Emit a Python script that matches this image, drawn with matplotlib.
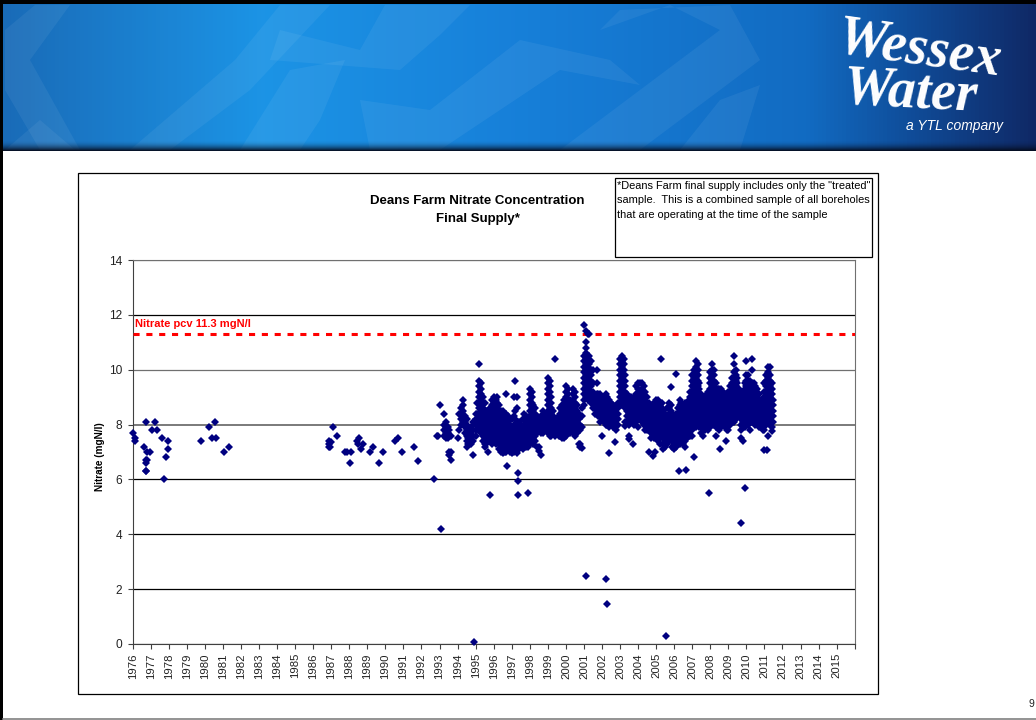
#!/usr/bin/env python3

import numpy as np
import matplotlib
matplotlib.use("Agg")
import matplotlib.pyplot as plt
from matplotlib.patches import Rectangle, Polygon

plt.rcParams['font.family'] = ['Liberation Sans', 'DejaVu Sans']

NAVY = "#000080"

# isolated samples
early_years = [1976.0, 1976.1, 1976.15, 1976.65, 1976.72, 1976.72, 1976.76, 1976.74, 1976.8, 1976.78, 1976.94,
               1976.74, 1977.06, 1977.24, 1977.37, 1977.65, 1977.76, 1977.83, 1977.93, 1977.98,
               1979.78, 1980.2, 1980.41, 1980.56, 1980.63, 1981.06, 1981.33]
early_values = [7.7, 7.5, 7.4, 7.2, 6.6, 6.3, 6.3, 6.7, 6.7, 7.0, 7.0,
                8.1, 7.8, 8.1, 7.8, 7.5, 6.0, 6.8, 7.1, 7.4,
                7.4, 7.9, 7.5, 8.1, 7.5, 7.0, 7.2]

mid_years = [1986.85, 1986.87, 1986.9, 1986.95, 1986.98, 1987.11, 1987.33, 1987.74, 1987.89, 1988.02, 1988.09,
             1988.43, 1988.54, 1988.48, 1988.63, 1988.78, 1989.13, 1989.33, 1989.67, 1989.85, 1990.54, 1990.7,
             1990.94, 1991.56, 1991.81, 1992.67, 1992.85, 1992.9]
mid_values = [7.2, 7.4, 7.3, 7.2, 7.35, 7.9, 7.6, 7.0, 7.0, 6.6, 7.0,
              7.4, 7.5, 7.3, 7.1, 7.3, 7.0, 7.2, 6.6, 7.0, 7.4, 7.5,
              7.0, 7.2, 6.67, 6.0, 7.6, 7.6]

outlier_years = [1993.07, 1993.04, 1994.9, 1995.77, 1996.74, 1997.35, 1997.37, 1997.36, 1997.88, 2001.1, 2002.24, 2002.25,
                 2005.57, 2007.92, 2009.7, 2009.94, 2006.29, 2006.66, 2006.3, 2007.1, 2005.81, 2006.1, 2005.25,
                 2002.37, 2003.5, 2004.6, 2004.82, 2004.95, 2011.0, 2011.15, 2008.3, 2008.85, 2008.55]
outlier_values = [4.2, 8.7, 0.08, 5.42, 6.5, 6.25, 5.95, 5.42, 5.5, 2.48, 2.38, 1.47,
                  0.3, 5.5, 4.4, 5.68, 6.3, 6.35, 8.9, 6.8, 9.36, 9.85, 10.4,
                  6.97, 7.47, 7.0, 6.85, 7.0, 7.07, 7.07, 7.6, 7.4, 7.1]

# dense part of the record, one list of readings per sampling date
dense_years_a = [1993.25, 1993.35, 1993.45, 1993.55, 1993.65, 1994.0, 1994.1, 1994.2, 1994.3, 1994.4, 1994.5, 1994.6,
                 1994.75, 1994.85, 1995.0, 1995.1, 1995.2, 1995.3, 1995.4, 1995.5, 1995.6, 1995.7, 1995.8, 1995.9,
                 1996.0, 1996.1, 1996.2, 1996.3, 1996.4, 1996.5, 1996.6, 1996.7, 1996.8, 1996.9, 1997.0, 1997.1,
                 1997.2, 1997.3, 1997.4, 1997.5, 1997.6, 1997.7, 1997.8, 1997.9, 1998.0, 1998.1, 1998.2, 1998.3,
                 1998.4, 1998.5, 1998.6, 1998.75, 1998.9]
dense_values_a = [
    [8.4, 8.0, 7.8, 7.6], [8.1, 7.9, 7.7, 7.5], [7.9, 7.7, 7.5], [7.8, 7.6, 7.0, 6.9], [7.6, 7.0, 6.7],
    [7.5], [7.8, 8.4], [8.6, 8.4, 8.2, 8.0], [8.9, 8.7, 8.5, 8.3, 8.1], [8.3, 8.1, 7.9, 7.7],
    [8.2, 8.0, 7.8, 7.6, 7.4, 7.2], [7.9, 7.7, 7.5, 7.3],
    [7.9, 7.7, 7.5, 7.3], [8.1, 7.8, 7.6, 7.4, 6.9], [8.4, 8.2, 8.0, 7.8, 7.6], [8.8, 8.4, 8.2, 8.0, 7.8],
    [10.2, 9.6, 9.4, 9.2, 9.0, 8.8, 8.6, 8.4, 8.2], [9.5, 9.3, 9.1, 8.9, 8.7, 8.5, 8.3, 8.1, 7.9, 7.7],
    [9.0, 8.8, 8.6, 8.4, 8.2, 8.0, 7.8, 7.6, 7.4], [8.8, 8.5, 8.3, 8.1, 7.9, 7.7, 7.5, 7.3, 7.2],
    [8.5, 8.3, 8.1, 7.9, 7.7, 7.5, 7.3], [8.4, 8.2, 8.0, 7.8, 7.6, 7.4, 7.0], [8.6, 8.4, 8.2, 8.0, 7.8, 7.6, 7.4],
    [8.9, 8.7, 8.5, 8.3, 8.1, 7.9, 7.7, 7.5, 7.3], [9.0, 8.8, 8.6, 8.4, 8.2, 8.0, 7.8, 7.6, 7.4],
    [8.9, 8.7, 8.5, 8.3, 8.1, 7.9, 7.7, 7.5, 7.3], [9.0, 8.8, 8.6, 8.4, 8.2, 8.0, 7.8, 7.6, 7.4],
    [8.7, 8.5, 8.3, 8.1, 7.9, 7.7, 7.5, 7.3, 7.1], [8.5, 8.4, 8.2, 8.0, 7.8, 7.6, 7.4, 7.2, 7.0],
    [8.5, 8.3, 8.1, 7.9, 7.7, 7.5, 7.3, 7.1, 6.95], [8.3, 8.0, 7.8, 7.6, 7.4, 7.2, 7.0],
    [9.1, 8.4, 8.2, 8.0, 7.8, 7.6, 7.4, 7.2, 7.0], [8.3, 8.1, 7.9, 7.7, 7.5, 7.3, 7.1],
    [8.2, 8.0, 7.8, 7.6, 7.4, 7.2, 7.0], [8.2, 7.9, 7.7, 7.5, 7.3, 7.1, 6.95],
    [9.0, 8.3, 8.0, 7.8, 7.6, 7.4, 7.2, 7.0], [9.6, 8.5, 8.2, 8.0, 7.8, 7.6, 7.4, 7.2],
    [9.0, 8.6, 8.1, 7.9, 7.7, 7.5, 7.3, 7.1, 6.95], [8.1, 7.9, 7.7, 7.5, 7.3, 7.1], [8.0, 7.8, 7.6, 7.4, 7.2],
    [8.2, 7.9, 7.7, 7.5, 7.3, 7.1], [8.4, 8.2, 8.0, 7.8, 7.6, 7.4, 7.2], [8.3, 8.1, 7.9, 7.7, 7.5, 7.3, 7.2],
    [8.2, 8.0, 7.8, 7.6, 7.4, 7.2], [9.3, 9.1, 8.9, 8.7, 8.5, 8.3, 8.1, 7.9, 7.7, 7.5, 7.3],
    [9.2, 9.0, 8.8, 8.6, 8.4, 8.2, 8.0, 7.8, 7.6, 7.4], [8.7, 8.5, 8.3, 8.1, 7.9, 7.7, 7.5, 7.3],
    [8.6, 8.4, 8.2, 8.0, 7.8, 7.6, 7.4], [8.3, 8.1, 7.9, 7.7, 7.2], [8.2, 8.0, 7.8, 7.2, 7.05],
    [8.3, 8.1, 7.9, 7.7, 6.9], [8.5, 8.3, 8.1, 7.9, 7.7], [8.4, 8.2, 8.0, 7.8],
]

dense_years_b = [1999.0, 1999.1, 1999.2, 1999.3, 1999.4, 1999.5, 1999.6, 1999.7, 1999.8, 1999.9, 2000.0, 2000.1,
                 2000.2, 2000.3, 2000.4, 2000.5, 2000.6, 2000.7, 2000.8, 2000.9, 2001.0, 2001.1, 2001.2, 2001.3,
                 2001.4, 2001.5, 2001.6, 2001.7, 2001.8, 2001.9, 2002.0, 2002.1, 2002.2, 2002.3, 2002.4, 2002.5,
                 2002.6, 2002.7, 2002.8, 2002.9, 2003.0, 2003.1, 2003.2, 2003.3, 2003.4, 2003.5, 2003.6, 2003.7,
                 2003.8, 2003.9, 2004.0, 2004.1, 2004.2, 2004.3, 2004.4, 2004.5, 2004.6, 2004.7, 2004.8, 2004.9]
dense_values_b = [
    [9.7, 9.5, 9.3, 9.1, 8.9, 8.7, 8.5, 8.3, 8.1, 7.9, 7.7], [9.6, 9.4, 9.2, 9.0, 8.8, 8.6, 8.4, 8.2, 8.0, 7.8, 7.6],
    [9.0, 8.8, 8.6, 8.4, 8.2, 8.0, 7.8, 7.6], [8.5, 8.3, 8.1, 7.9, 7.7], [10.4, 8.2, 8.0, 7.8, 7.6],
    [8.1, 7.9, 7.7], [8.3, 8.0, 7.8, 7.6], [8.6, 8.4, 8.2, 8.0, 7.8, 7.6], [8.7, 8.5, 8.3, 8.1, 7.9, 7.7, 7.5],
    [8.9, 8.7, 8.5, 8.3, 8.1, 7.9, 7.7, 7.5], [9.4, 9.2, 9.0, 8.8, 8.6, 8.4, 8.2, 8.0, 7.8, 7.6],
    [9.3, 9.1, 8.9, 8.7, 8.5, 8.3, 8.1, 7.9, 7.7], [8.9, 8.7, 8.5, 8.3, 8.1, 7.9, 7.7], [8.8, 8.6, 8.4, 8.2, 8.0, 7.8],
    [9.3, 9.1, 8.9, 8.7, 8.5, 8.3, 8.1, 7.9, 7.7], [9.2, 9.0, 8.8, 8.6, 8.4, 8.2, 8.0, 7.8, 7.6],
    [8.7, 8.5, 8.3, 8.1, 7.9, 7.7], [8.4, 8.2, 8.0, 7.8, 7.3], [8.0, 7.8, 7.3, 7.2], [8.6, 8.3, 7.9, 7.15],
    [11.63, 10.5, 10.3, 10.1, 9.9, 9.7, 9.5, 9.3, 9.1, 8.9, 8.7], [11.4, 11.0, 10.8, 10.6, 10.4, 10.2, 10.0, 9.8, 9.6, 9.4, 9.2, 9.0],
    [11.3, 10.5, 10.3, 10.1, 9.9, 9.7, 9.5, 9.3, 9.1, 8.9], [11.3, 10.5, 10.2, 10.0, 9.8, 9.6, 9.4, 9.2, 9.0],
    [10.3, 10.0, 9.8, 9.6, 9.4, 9.2, 9.0, 8.8], [10.0, 9.5, 9.2, 9.0, 8.8, 8.6], [9.0, 8.8, 8.6, 8.4],
    [10.0, 9.5, 9.1, 8.9, 8.7, 8.5, 8.4], [9.1, 8.9, 8.7, 8.5, 8.3], [9.1, 8.9, 8.7, 8.5, 8.3, 8.1],
    [9.0, 8.8, 8.6, 8.4, 8.2, 7.6], [8.9, 8.7, 8.5, 8.3, 8.1], [9.1, 8.9, 8.7, 8.5, 8.3, 8.1, 8.0],
    [9.0, 8.8, 8.6, 8.4, 8.2, 8.0], [8.9, 8.7, 8.5, 8.3, 8.1, 7.9], [8.8, 8.6, 8.4, 8.2, 8.0, 8.1],
    [8.7, 8.5, 8.3, 8.1, 7.9], [8.5, 8.3, 8.1, 7.9, 7.37], [8.6, 8.4, 8.2, 8.0, 7.8], [8.8, 8.6, 8.4, 8.2, 8.0],
    [10.4, 10.2, 10.0, 9.8, 9.6, 9.4, 9.2, 9.0, 8.8], [10.5, 10.3, 10.1, 9.9, 9.7, 9.5, 9.3, 9.1, 8.9, 8.7],
    [10.4, 10.2, 10.0, 9.8, 9.6, 9.4, 9.2, 9.0, 8.8], [9.8, 9.6, 9.4, 9.2, 9.0, 8.8, 8.6, 8.1, 7.95],
    [9.1, 8.9, 8.7, 8.5, 8.3, 8.1], [9.0, 8.8, 8.6, 8.4, 8.2, 8.0, 7.6], [9.0, 8.8, 8.6, 8.4, 8.2],
    [8.9, 8.7, 8.5, 8.3, 8.1, 7.3], [9.0, 8.8, 8.6, 8.4, 8.2, 8.0], [9.4, 9.1, 8.9, 8.7, 8.5, 8.3, 8.1],
    [9.5, 9.3, 9.1, 8.9, 8.7, 8.5, 8.3, 7.9], [9.5, 9.2, 9.0, 8.8, 8.6, 8.4, 8.2],
    [9.5, 9.3, 9.1, 8.9, 8.7, 8.5, 8.3, 8.1], [9.4, 9.2, 9.0, 8.8, 8.6, 8.4, 8.2, 8.0],
    [9.2, 9.0, 8.8, 8.6, 8.4, 8.2, 8.0, 7.8], [9.0, 8.8, 8.6, 8.4, 8.2, 8.0, 7.8], [8.8, 8.6, 8.4, 8.2, 8.0, 7.8],
    [8.7, 8.5, 8.3, 8.1, 7.9, 7.7, 7.5], [8.6, 8.4, 8.2, 8.0, 7.8, 7.6], [8.8, 8.5, 8.3, 8.1, 7.9, 7.7, 7.5],
]

dense_years_c = [2005.0, 2005.1, 2005.2, 2005.3, 2005.4, 2005.5, 2005.6, 2005.7, 2005.8, 2005.9, 2006.0, 2006.1,
                 2006.2, 2006.3, 2006.4, 2006.5, 2006.6, 2006.7, 2006.8, 2006.9, 2007.0, 2007.1, 2007.2, 2007.3,
                 2007.4, 2007.5, 2007.6, 2007.7, 2007.8, 2007.9, 2008.0, 2008.1, 2008.2, 2008.3, 2008.4, 2008.5,
                 2008.6, 2008.7, 2008.8, 2008.9, 2009.0, 2009.1, 2009.2, 2009.3, 2009.4, 2009.5, 2009.6, 2009.7,
                 2009.8, 2009.9, 2010.0, 2010.1, 2010.2, 2010.3, 2010.4, 2010.5, 2010.6, 2010.7, 2010.8, 2010.9,
                 2011.0, 2011.1, 2011.2, 2011.3, 2011.4, 2011.5]
dense_values_c = [
    [8.9, 8.7, 8.5, 8.3, 8.1, 7.9, 7.7, 7.5], [8.9, 8.6, 8.4, 8.2, 8.0, 7.8, 7.6, 7.4], [8.7, 8.5, 8.3, 8.1, 7.9, 7.7, 7.5, 7.3],
    [8.8, 8.6, 8.4, 8.2, 8.0, 7.8, 7.6], [8.5, 8.3, 8.1, 7.9, 7.7, 7.5, 7.3, 7.1], [8.4, 8.2, 8.0, 7.8, 7.6, 7.4, 7.2],
    [8.6, 8.3, 8.1, 7.9, 7.7, 7.5, 7.3], [8.8, 8.6, 8.4, 8.2, 8.0, 7.8, 7.6, 7.4], [8.7, 8.5, 8.3, 8.1, 7.9, 7.7, 7.5],
    [8.4, 8.2, 8.0, 7.8, 7.6, 7.4, 7.2], [8.3, 8.1, 7.9, 7.7, 7.5, 7.3, 7.1], [8.4, 8.2, 8.0, 7.8, 7.6, 7.4, 7.2],
    [8.6, 8.3, 8.1, 7.9, 7.7, 7.5, 7.3], [8.7, 8.5, 8.2, 8.0, 7.8, 7.6, 7.4, 7.3], [8.8, 8.6, 8.4, 8.2, 8.0, 7.8, 7.6, 7.4],
    [8.7, 8.5, 8.3, 8.1, 7.9, 7.7, 7.5, 7.3], [8.8, 8.6, 8.4, 8.2, 8.0, 7.8, 7.6, 7.4, 7.2], [8.7, 8.5, 8.3, 8.1, 7.9, 7.7, 7.5],
    [8.9, 8.6, 8.4, 8.2, 8.0, 7.8, 7.6], [9.2, 9.0, 8.8, 8.6, 8.4, 8.2, 8.0, 7.8, 7.6], [9.8, 9.6, 9.4, 9.2, 9.0, 8.8, 8.6, 8.4, 8.2, 8.0, 7.8, 7.6],
    [10.0, 9.7, 9.5, 9.3, 9.1, 8.9, 8.7, 8.5, 8.3, 8.1, 7.9], [10.3, 10.1, 9.9, 9.7, 9.5, 9.3, 9.1, 8.9, 8.7, 8.5, 8.3, 8.1, 7.9],
    [10.2, 10.0, 9.8, 9.6, 9.4, 9.2, 9.0, 8.8, 8.6, 8.4, 8.2, 8.0], [9.5, 9.3, 9.1, 8.9, 8.7, 8.5, 8.3, 8.1, 7.9], [9.1, 8.9, 8.7, 8.5, 8.3, 8.1, 7.9, 7.7],
    [9.0, 8.8, 8.6, 8.4, 8.2, 8.0, 7.6], [9.0, 8.8, 8.6, 8.4, 8.2, 8.0, 7.8], [9.1, 8.9, 8.7, 8.5, 8.3, 8.1, 7.9], [9.2, 9.0, 8.8, 8.6, 8.4, 8.2, 8.0, 7.8],
    [9.9, 9.7, 9.5, 9.3, 9.1, 8.9, 8.7, 8.5, 8.3, 8.1, 7.9], [10.2, 10.0, 9.8, 9.6, 9.4, 9.2, 9.0, 8.8, 8.6, 8.4, 8.2, 8.0],
    [10.0, 9.8, 9.6, 9.4, 9.2, 9.0, 8.8, 8.6, 8.4, 8.2, 8.0], [9.5, 9.3, 9.1, 8.9, 8.7, 8.5, 8.3, 8.1, 7.9], [9.3, 9.1, 8.9, 8.7, 8.5, 8.3, 8.1, 7.9],
    [9.3, 9.1, 8.9, 8.7, 8.5, 8.3, 8.1, 7.9, 7.8], [9.3, 9.1, 8.9, 8.7, 8.5, 8.3, 8.1, 7.9], [9.2, 9.0, 8.8, 8.6, 8.4, 8.2, 8.0],
    [9.1, 8.9, 8.7, 8.5, 8.3, 8.1, 7.9], [9.0, 8.8, 8.6, 8.4, 8.2, 8.0, 7.8], [9.2, 9.0, 8.8, 8.6, 8.4, 8.2, 8.0, 7.8],
    [9.4, 9.2, 9.0, 8.8, 8.6, 8.4, 8.2, 8.0], [9.7, 9.5, 9.3, 9.1, 8.9, 8.7, 8.5, 8.3, 8.1], [10.5, 10.2, 9.9, 9.7, 9.5, 9.3, 9.1, 8.9, 8.7, 8.5, 8.3, 8.1],
    [10.0, 9.8, 9.6, 9.4, 9.2, 9.0, 8.8, 8.6, 8.4, 8.2], [9.7, 9.5, 9.3, 9.1, 8.9, 8.7, 8.5, 8.3], [9.3, 9.1, 8.9, 8.7, 8.5, 8.3],
    [9.2, 9.0, 8.8, 8.6, 8.4, 8.2, 8.0, 7.8, 7.5], [9.1, 8.9, 8.7, 8.5, 8.3, 8.1, 7.9, 7.4], [9.5, 9.3, 9.1, 8.9, 8.7, 8.5, 8.3, 8.1, 7.9],
    [10.3, 9.8, 9.6, 9.4, 9.2, 9.0, 8.8, 8.6, 8.4, 8.2, 8.0], [9.8, 9.6, 9.4, 9.2, 9.0, 8.8, 8.6, 8.4, 8.2, 8.0], [9.6, 9.4, 9.2, 9.0, 8.8, 8.6, 8.4, 8.2, 7.8],
    [10.4, 10.0, 9.5, 9.3, 9.1, 8.9, 8.7, 8.5, 8.3, 8.1], [9.5, 9.3, 9.1, 8.9, 8.7, 8.5, 8.3, 8.1], [9.4, 9.2, 9.0, 8.8, 8.6, 8.4, 8.2, 8.0],
    [9.3, 9.1, 8.9, 8.7, 8.5, 8.3, 8.1], [9.1, 8.9, 8.7, 8.5, 8.3, 8.1, 7.9], [8.9, 8.7, 8.5, 8.3, 8.1, 7.9], [8.9, 8.6, 8.4, 8.2, 8.0, 7.8],
    [9.5, 9.2, 9.0, 8.8, 8.6, 8.4, 8.2, 8.0, 7.8], [9.8, 9.6, 9.4, 9.2, 9.0, 8.8, 8.6, 8.4, 8.2, 8.0], [10.1, 9.9, 9.7, 9.5, 9.3, 9.1, 8.9, 8.7, 8.5, 8.3, 8.1, 7.6],
    [10.1, 9.8, 9.6, 9.4, 9.2, 9.0, 8.8, 8.6, 8.4, 8.2, 8.0], [9.5, 9.3, 9.1, 8.9, 8.7, 8.5, 8.3, 8.1, 7.9, 7.75], [8.9, 8.7, 8.5, 8.3, 8.1],
]

pcv_years = [1976, 2016]
pcv_values = [11.3, 11.3]

year_ticks = list(range(1976, 2017))
year_labels = [str(y) for y in range(1976, 2016)] + [""]
nitrate_ticks = [0, 2, 4, 6, 8, 10, 12, 14]
grid_colours = ["#404040", "#000000", "#000000", "#000000", "#707070", "#707070", "#000000", "#707070"]


def expand(years, lists):
    xs, ys = [], []
    for year, vals in zip(years, lists):
        for val in vals:
            xs.append(year)
            ys.append(val)
    return xs, ys


def draw_banner(page):
    # blue header strip, horizontal gradient with a dark right end
    stops_x = [0.0, 0.25, 0.5, 0.78, 0.88, 1.0]
    stops_r = [0.10, 0.11, 0.09, 0.07, 0.06, 0.06]
    stops_g = [0.42, 0.58, 0.50, 0.42, 0.30, 0.16]
    stops_b = [0.72, 0.90, 0.85, 0.76, 0.60, 0.40]
    xx = np.linspace(0, 1, 256)
    row = np.stack([np.interp(xx, stops_x, stops_r),
                    np.interp(xx, stops_x, stops_g),
                    np.interp(xx, stops_x, stops_b)], axis=1)
    page.imshow(row[np.newaxis, :, :], extent=(3, 1036, 151, 4), aspect="auto", zorder=1)

    swooshes = [
        [(5, 30), (35, 5), (70, 5), (30, 60), (80, 150), (40, 150), (5, 90)],
        [(130, 150), (235, 60), (280, 5), (330, 5), (250, 90), (170, 150)],
        [(240, 150), (290, 70), (345, 60), (320, 120), (300, 150)],
        [(270, 60), (400, 70), (440, 35), (470, 5), (385, 5), (360, 50), (280, 30)],
        [(360, 100), (430, 110), (520, 40), (610, 60), (640, 85), (560, 70), (500, 110), (440, 150), (370, 150)],
        [(560, 150), (660, 75), (720, 30), (670, 5), (600, 30), (620, 10), (730, 5), (760, 60), (640, 150)],
        [(680, 150), (720, 100), (760, 85), (740, 150)],
        [(5, 150), (40, 120), (75, 150)],
    ]
    for pts in swooshes:
        page.add_patch(Polygon(pts, closed=True, facecolor="white", edgecolor="none", alpha=0.06, zorder=2))

    # darkening along the lower edge of the strip
    fade = np.zeros((32, 1, 4))
    fade[:, :, 0] = 0.02
    fade[:, :, 1] = 0.05
    fade[:, :, 2] = 0.12
    fade[:, :, 3] = np.linspace(0, 1, 32)[:, np.newaxis] ** 2
    page.imshow(fade, extent=(3, 1036, 151, 140), aspect="auto", origin="upper", zorder=3)

    # logo, as lettering
    page.text(834, 50, "Wessex", color="white", fontsize=40, family="Liberation Serif",
              style="italic", weight="bold", rotation=-8, ha="left", va="center", zorder=5)
    page.text(842, 93, "Water", color="white", fontsize=40, family="Liberation Serif",
              style="italic", weight="bold", rotation=-3, ha="left", va="center", zorder=5)
    page.text(955, 126, "a YTL company", color="white", fontsize=10, style="italic",
              ha="center", va="center", zorder=5)


def main():
    fig = plt.figure(figsize=(10.36, 7.2), dpi=100, facecolor="white")

    page = fig.add_axes([0, 0, 1, 1])
    page.set_xlim(0, 1036)
    page.set_ylim(720, 0)
    page.axis("off")

    draw_banner(page)
    page.set_xlim(0, 1036)
    page.set_ylim(720, 0)

    # slide frame
    page.add_patch(Rectangle((0, 0), 1036, 4, facecolor="black", edgecolor="none", zorder=6))
    page.add_patch(Rectangle((0, 0), 3, 720, facecolor="black", edgecolor="none", zorder=6))
    page.plot([3, 1036], [718.5, 718.5], color="#808080", lw=1.2, zorder=6)
    page.text(1031, 704, "9", fontsize=7.5, ha="center", va="center", color="#222222")

    # chart area and note box
    page.add_patch(Rectangle((77.5, 172.5), 800, 521, facecolor="white", edgecolor="black", lw=0.9, zorder=2))
    page.text(477.5, 201, "Deans Farm Nitrate Concentration", fontsize=9.5, weight="bold",
              ha="center", va="center", zorder=3)
    page.text(477.5, 219, "Final Supply*", fontsize=9.5, weight="bold", ha="center", va="center", zorder=3)
    page.add_patch(Rectangle((614.5, 177.5), 257, 79, facecolor="white", edgecolor="black", lw=0.9, zorder=3))
    page.text(617, 186, '*Deans Farm final supply includes only the "treated"', fontsize=7.9,
              ha="left", va="center", zorder=4)
    page.text(617, 200, "sample.  This is a combined sample of all boreholes", fontsize=7.9,
              ha="left", va="center", zorder=4)
    page.text(617, 215, "that are operating at the time of the sample", fontsize=7.9,
              ha="left", va="center", zorder=4)
    page.text(100, 457, "Nitrate (mgN/l)", fontsize=7.2, weight="bold", rotation=90,
              ha="center", va="center", zorder=4)

    ax = fig.add_axes([132.7 / 1036, (720 - 644) / 720, 722 / 1036, 384 / 720])
    ax.patch.set_alpha(0)

    xa, ya = expand(dense_years_a, dense_values_a)
    xb, yb = expand(dense_years_b, dense_values_b)
    xc, yc = expand(dense_years_c, dense_values_c)
    all_x = early_years + mid_years + outlier_years + xa + xb + xc
    all_y = early_values + mid_values + outlier_values + ya + yb + yc

    ax.plot(all_x, all_y, linestyle="none", marker="D", ms=3.8, mew=0, color=NAVY, zorder=4, clip_on=False)
    ax.plot(pcv_years, pcv_values, color="#ff0000", lw=2.2, dashes=(2.0, 2.2), dash_capstyle="butt", zorder=3)
    ax.text(1976.1, 11.68, "Nitrate pcv 11.3 mgN/l", color="#ff0000", fontsize=8.0, weight="bold",
            ha="left", va="center", zorder=5)

    ax.set_xlim(1976, 2016)
    ax.set_ylim(0, 14)
    ax.set_xticks(year_ticks)
    ax.set_xticklabels(year_labels, rotation=90, fontsize=8.2, color="#222222")
    ax.set_yticks(nitrate_ticks)
    ax.set_yticklabels([str(v) for v in nitrate_ticks], fontsize=8.6, color="#222222")
    ax.tick_params(axis="x", length=3.5, width=0.8, pad=3, color="#404040")
    ax.tick_params(axis="y", length=3.5, width=0.8, pad=4, color="#404040")

    ax.yaxis.grid(True, lw=0.9, zorder=1)
    ax.set_axisbelow(True)
    for line, colour in zip(ax.get_ygridlines(), grid_colours):
        line.set_color(colour)
    ax.get_ygridlines()[4].set_linewidth(1.3)

    ax.spines["left"].set_color("#404040")
    ax.spines["bottom"].set_color("#404040")
    ax.spines["top"].set_color("#707070")
    ax.spines["right"].set_color("#707070")
    for spine in ax.spines.values():
        spine.set_linewidth(0.8)

    fig.savefig("out.png", dpi=100, facecolor="white")


if __name__ == "__main__":
    main()
